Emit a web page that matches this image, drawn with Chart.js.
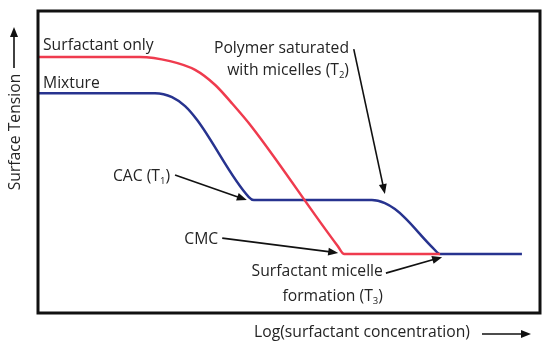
<!DOCTYPE html>
<html>
<head>
<meta charset="utf-8">
<script src="https://cdn.jsdelivr.net/npm/chart.js@4.4.1/dist/chart.umd.min.js"></script>
<style>
  body { margin: 0; background: #fff; }
</style>
</head>
<body>
<canvas id="chart" width="550" height="347"></canvas>
<script>
// series names
var seriesNames = ['Surfactant only', 'Mixture'];
// surfactant only (red)
var redX = [0, 2.03, 2.63, 3.13, 3.53, 3.86, 4.26, 5.97, 6.10, 8.01];
var redY = [8.48, 8.48, 8.34, 8.05, 7.55, 6.95, 6.16, 2.22, 1.95, 1.95];
// mixture (blue)
var blueX = [0, 2.33, 2.67, 2.93, 3.17, 4.20, 4.30, 6.65, 6.91, 7.11, 7.31, 7.87, 8.01, 9.64];
var blueY = [7.28, 7.28, 7.15, 6.85, 6.39, 3.84, 3.74, 3.74, 3.64, 3.44, 3.15, 2.15, 1.95, 1.95];
// axis titles
var xTitle = 'Log(surfactant concentration)';
var yTitle = 'Surface Tension';
// annotation texts (_n = subscript)
var noteT2 = ['Polymer saturated', 'with micelles (T_2)'];
var noteT1 = ['CAC (T_1)'];
var noteCMC = ['CMC'];
var noteT3 = ['Surfactant micelle', 'formation (T_3)'];

var FONT = '"Open Sans", "Liberation Sans", sans-serif';
var TXT = '#242424';

// label placement, data units
var notes = [
  { lines: [seriesNames[0]], x: 0.10, y: [8.71], align: 'left' },
  { lines: [seriesNames[1]], x: 0.10, y: [7.45], align: 'left' },
  { lines: noteT2, x: 6.195, y: [8.61, 7.88], align: 'right', arrow: [6.29, 8.74, 6.91, 3.94] },
  { lines: noteT1, x: 2.63, y: [4.37], align: 'right', arrow: [2.73, 4.57, 4.16, 3.74] },
  { lines: noteCMC, x: 3.59, y: [2.28], align: 'right', arrow: [3.67, 2.48, 5.98, 1.99] },
  { lines: noteT3, x: 6.87, y: [1.23, 0.40], align: 'right', arrow: [6.93, 1.32, 8.05, 1.85] }
];

function drawRich(ctx, s, x, y, align) {
  var parts = s.split(/_(\d)/);
  var w = 0, i;
  for (i = 0; i < parts.length; i++) {
    ctx.font = (i % 2 ? '9.5px ' : '15.7px ') + FONT;
    w += ctx.measureText(parts[i]).width;
  }
  var sx = align == 'right' ? x - w : (align == 'center' ? x - w / 2 : x);
  for (i = 0; i < parts.length; i++) {
    ctx.font = (i % 2 ? '9.5px ' : '15.7px ') + FONT;
    ctx.fillText(parts[i], sx, y + (i % 2 ? 3 : 0));
    sx += ctx.measureText(parts[i]).width;
  }
}

function arrow(ctx, x1, y1, x2, y2) {
  var a = Math.atan2(y2 - y1, x2 - x1);
  var hl = 10, hw = 4;
  ctx.beginPath();
  ctx.moveTo(x1, y1);
  ctx.lineTo(x2 - Math.cos(a) * hl * 0.8, y2 - Math.sin(a) * hl * 0.8);
  ctx.stroke();
  ctx.beginPath();
  ctx.moveTo(x2, y2);
  ctx.lineTo(x2 - Math.cos(a) * hl - Math.sin(a) * hw, y2 - Math.sin(a) * hl + Math.cos(a) * hw);
  ctx.lineTo(x2 - Math.cos(a) * hl + Math.sin(a) * hw, y2 - Math.sin(a) * hl - Math.cos(a) * hw);
  ctx.closePath();
  ctx.fill();
}

var annotate = {
  id: 'annotate',
  afterDraw: function(chart) {
    var ctx = chart.ctx, ca = chart.chartArea;
    var xs = chart.scales.x, ys = chart.scales.y;
    ctx.save();
    // frame
    ctx.strokeStyle = '#111';
    ctx.lineWidth = 3;
    ctx.strokeRect(ca.left, ca.top, ca.right - ca.left, ca.bottom - ca.top);

    ctx.fillStyle = TXT;
    ctx.strokeStyle = '#111';
    ctx.lineWidth = 1.6;
    ctx.textBaseline = 'alphabetic';
    notes.forEach(function(n) {
      n.lines.forEach(function(l, i) {
        drawRich(ctx, l, xs.getPixelForValue(n.x), ys.getPixelForValue(n.y[i]), n.align);
      });
      if (n.arrow) {
        ctx.fillStyle = '#111';
        arrow(ctx, xs.getPixelForValue(n.arrow[0]), ys.getPixelForValue(n.arrow[1]),
          xs.getPixelForValue(n.arrow[2]), ys.getPixelForValue(n.arrow[3]));
        ctx.fillStyle = TXT;
      }
    });

    // x title + arrow
    var cx = (ca.left + ca.right) / 2 + 73;
    drawRich(ctx, xTitle, cx, ca.bottom + 24, 'center');
    ctx.fillStyle = '#111';
    arrow(ctx, ca.right - 58, ca.bottom + 21, ca.right - 9, ca.bottom + 21);

    // y title + arrow
    ctx.save();
    ctx.translate(ca.left - 18, ca.top + 121);
    ctx.rotate(-Math.PI / 2);
    ctx.fillStyle = TXT;
    drawRich(ctx, yTitle, 0, 0, 'center');
    ctx.restore();
    arrow(ctx, ca.left - 24, ca.top + 57, ca.left - 24, ca.top + 16);
    ctx.restore();
  }
};

var ctx = document.getElementById('chart').getContext('2d');
var chart = new Chart(ctx, {
  type: 'line',
  data: {
    datasets: [
      {
        label: seriesNames[0],
        data: redX.map(function(x, i) { return { x: x, y: redY[i] }; }),
        borderColor: '#ef3b4e',
        borderWidth: 2.5,
        pointRadius: 0,
        fill: false,
        cubicInterpolationMode: 'monotone'
      },
      {
        label: seriesNames[1],
        data: blueX.map(function(x, i) { return { x: x, y: blueY[i] }; }),
        borderColor: '#27338f',
        borderWidth: 2.5,
        pointRadius: 0,
        fill: false,
        cubicInterpolationMode: 'monotone'
      }
    ]
  },
  options: {
    responsive: false,
    animation: false,
    layout: { padding: { left: 38, right: 10, top: 11, bottom: 34 } },
    scales: {
      x: { type: 'linear', min: 0, max: 10, display: false },
      y: { type: 'linear', min: 0, max: 10, display: false }
    },
    plugins: { legend: { display: false }, tooltip: { enabled: false } }
  },
  plugins: [annotate]
});
</script>
</body>
</html>
